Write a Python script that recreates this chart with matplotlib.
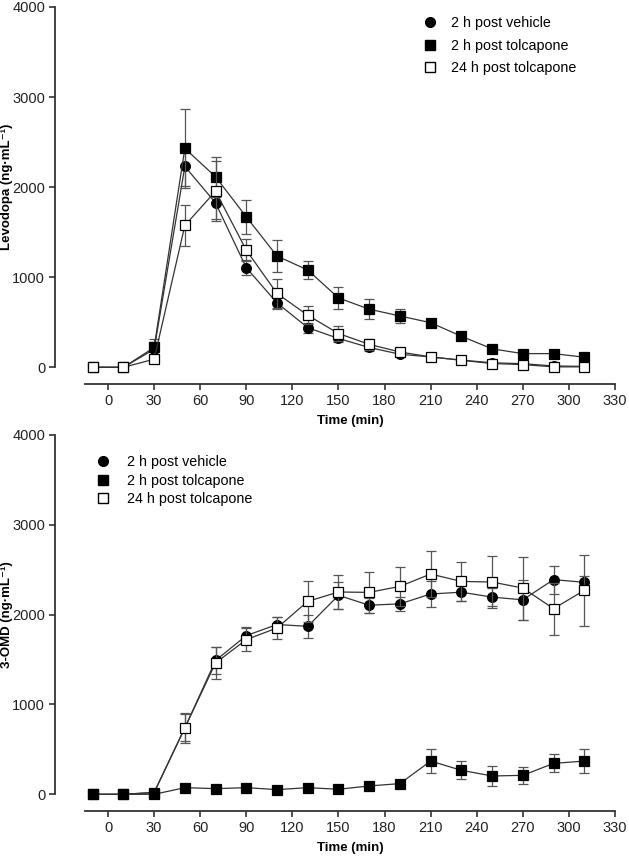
import numpy as np
import matplotlib
matplotlib.use("Agg")
import matplotlib.pyplot as plt
from matplotlib.lines import Line2D

plt.rcParams['font.family'] = ['Liberation Sans', 'DejaVu Sans']

# sampling times (min)
time = [-10, 10, 30, 50, 70, 90, 110, 130, 150, 170, 190, 210, 230, 250, 270, 290, 310]

# Levodopa (ng/mL), mean and SEM
ldopa_vehicle = [0, 0, 200, 2230, 1825, 1105, 715, 440, 320, 220, 145, 115, 80, 50, 40, 15, 10]
ldopa_vehicle_err = [0, 0, 80, 220, 175, 85, 70, 55, 40, 35, 25, 20, 15, 10, 10, 10, 5]
ldopa_tolc2 = [0, 0, 220, 2430, 2115, 1670, 1235, 1080, 770, 645, 570, 495, 345, 205, 152, 152, 112]
ldopa_tolc2_err = [0, 0, 90, 440, 220, 185, 180, 100, 120, 110, 75, 35, 30, 25, 20, 20, 20]
ldopa_tolc24 = [0, 0, 90, 1575, 1955, 1300, 820, 578, 375, 255, 170, 115, 78, 42, 30, 5, 5]
ldopa_tolc24_err = [0, 0, 40, 230, 330, 125, 165, 100, 80, 60, 30, 20, 15, 10, 10, 5, 5]

# 3-OMD (ng/mL), mean and SEM
omd_vehicle = [0, 0, 20, 740, 1490, 1767, 1890, 1870, 2215, 2105, 2120, 2230, 2250, 2195, 2165, 2390, 2360]
omd_vehicle_err = [0, 0, 20, 150, 150, 90, 80, 130, 150, 85, 80, 140, 100, 100, 220, 155, 70]
omd_tolc2 = [0, 0, 0, 74, 63, 74, 52, 74, 56, 93, 119, 370, 267, 204, 211, 344, 370]
omd_tolc2_err = [0, 0, 0, 15, 15, 15, 15, 15, 15, 15, 20, 130, 100, 110, 92, 100, 130]
omd_tolc24 = [0, 0, 20, 740, 1463, 1722, 1852, 2148, 2252, 2248, 2315, 2452, 2370, 2363, 2296, 2067, 2270]
omd_tolc24_err = [0, 0, 20, 170, 175, 130, 120, 230, 190, 225, 220, 260, 220, 285, 350, 290, 395]

labels = ["2 h post vehicle", "2 h post tolcapone", "24 h post tolcapone"]
xticks = [0, 30, 60, 90, 120, 150, 180, 210, 240, 270, 300, 330]
yticks = [0, 1000, 2000, 3000, 4000]

DPI = 100
W, H = 629, 856
PX = 72.0 / DPI  # pixels -> points

styles = [
    dict(marker='o', mfc='black', mec='black', ms=7.0),
    dict(marker='s', mfc='black', mec='black', ms=7.9),
    dict(marker='s', mfc='white', mec='black', ms=7.9),
]


def draw_panel(ax, series, ylabel, zorders, leg_anchor, leg_spacing, leg_pad):
    for (y, err), st, z in zip(series, styles, zorders):
        cont = ax.errorbar(time, y, yerr=err, color='#333333', lw=0.9,
                           ecolor='#555555', elinewidth=0.9, capsize=3.3,
                           capthick=0.9, mew=0.9, zorder=z, **st)
        for art in cont.get_children():
            art.set_clip_on(False)

    ax.set_xlim(-15, 330)
    ax.set_ylim(0, 4000)
    ax.set_xticks(xticks)
    ax.set_yticks(yticks)

    for s in ['top', 'right']:
        ax.spines[s].set_visible(False)
    ax.spines['left'].set_position(('outward', 30 * PX))
    ax.spines['bottom'].set_position(('outward', 17 * PX))
    ax.spines['left'].set_bounds(0, 4000)
    ax.spines['bottom'].set_bounds(-15, 330)
    for s in ['left', 'bottom']:
        ax.spines[s].set_linewidth(1.3)
        ax.spines[s].set_color('#333333')

    ax.tick_params(axis='both', direction='out', length=4 * PX * 1.4, width=1.2,
                   color='#333333', labelsize=10.5, labelcolor='#222222', pad=3)

    ax.set_xlabel("Time (min)", fontsize=9.5, fontweight='bold', labelpad=5)
    ax.set_ylabel(ylabel, fontsize=9.5, fontweight='bold')
    ax.yaxis.set_label_coords(-0.136, 0.5)

    handles = [Line2D([], [], linestyle='none', color='black', **st) for st in styles]
    ax.legend(handles, labels, loc='upper left', bbox_to_anchor=leg_anchor,
              frameon=False, fontsize=10.3, borderpad=0, borderaxespad=0,
              handlelength=1.0, handletextpad=leg_pad, labelspacing=leg_spacing)


fig = plt.figure(figsize=(W / DPI, H / DPI), dpi=DPI)

ax1 = fig.add_axes([85 / W, 1 - 367.3 / H, 530 / W, 360.3 / H])
ax2 = fig.add_axes([85 / W, 1 - 794.3 / H, 530 / W, 359.3 / H])

draw_panel(ax1,
           [(ldopa_vehicle, ldopa_vehicle_err), (ldopa_tolc2, ldopa_tolc2_err),
            (ldopa_tolc24, ldopa_tolc24_err)],
           "Levodopa (ng·mL⁻¹)", [3, 4, 5], (0.638, 0.975), 0.6, 0.93)

draw_panel(ax2,
           [(omd_vehicle, omd_vehicle_err), (omd_tolc2, omd_tolc2_err),
            (omd_tolc24, omd_tolc24_err)],
           "3-OMD (ng·mL⁻¹)", [3, 5, 4], (0.021, 0.944), 0.32, 1.14)

fig.savefig("out.png", dpi=DPI)
